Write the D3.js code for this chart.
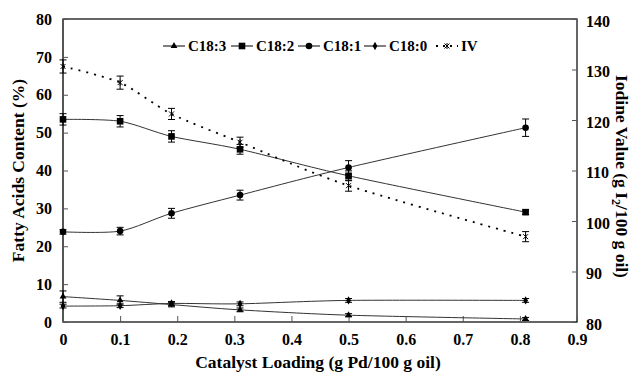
<!DOCTYPE html>
<html>
<head>
<meta charset="utf-8">
<script src="https://cdn.jsdelivr.net/npm/d3@7"></script>
<style>
  body { margin: 0; background: #fff; }
</style>
</head>
<body>
<div id="chart"></div>
<script>
// ---- data ----
const loading = [0, 0.1, 0.19, 0.31, 0.5, 0.81];

const c183 = [6.7, 5.7, 4.6, 3.2, 1.8, 0.8];
const c183Err = [1.5, 1.2, 0.6, 0.5, 0.4, 0.4];
const c182 = [53.5, 53.0, 49.0, 45.6, 38.6, 29.0];
const c182Err = [1.5, 1.5, 1.5, 1.3, 1.3, 0.6];
const c181 = [23.8, 24.0, 28.7, 33.5, 40.8, 51.3];
const c181Err = [0.6, 1.0, 1.3, 1.3, 1.8, 2.3];
const c180 = [4.2, 4.3, 4.9, 4.8, 5.7, 5.7];
const c180Err = [0.5, 0.5, 0.5, 0.5, 0.5, 0.5];
const iv = [130.6, 127.4, 121.2, 115.6, 107.0, 96.9];
const ivErr = [1.3, 1.3, 1.1, 1.0, 1.1, 1.0];

const xTicks = [0, 0.1, 0.2, 0.3, 0.4, 0.5, 0.6, 0.7, 0.8, 0.9];
const yLeftTicks = [0, 10, 20, 30, 40, 50, 60, 70, 80];
const yRightTicks = [80, 90, 100, 110, 120, 130, 140];

const FONT = 'Liberation Serif';

// ---- layout ----
const W = 635, H = 374;
const m = { left: 63, right: 58, top: 19, bottom: 52 };
const iw = W - m.left - m.right;
const ih = H - m.top - m.bottom;

const svg = d3.select('#chart').append('svg').attr('width', W).attr('height', H);
const g = svg.append('g').attr('transform', `translate(${m.left},${m.top})`);

const x = d3.scaleLinear().domain([0, 0.9]).range([0, iw]);
const yL = d3.scaleLinear().domain([0, 80]).range([ih, 0]);
const yR = d3.scaleLinear().domain([80, 140]).range([ih, 0]);

// frame
g.append('rect').attr('width', iw).attr('height', ih)
  .attr('fill', 'none').attr('stroke', '#000').attr('stroke-width', 1.2);
g.append('line').attr('x1', 0).attr('x2', 0).attr('y1', 0).attr('y2', ih)
  .attr('stroke', '#555').attr('stroke-width', 2);

// axes
const xAxis = g.append('g').attr('transform', `translate(0,${ih})`)
  .call(d3.axisBottom(x).tickValues(xTicks).tickFormat(d => d === 0 ? '0' : d3.format('.1f')(d))
    .tickSizeInner(-6).tickSizeOuter(0).tickPadding(12));
const yLeft = g.append('g')
  .call(d3.axisLeft(yL).tickValues(yLeftTicks).tickSizeInner(-5).tickSizeOuter(0).tickPadding(11));
const yRight = g.append('g').attr('transform', `translate(${iw},0)`)
  .call(d3.axisRight(yR).tickValues(yRightTicks).tickSizeInner(-5).tickSizeOuter(0).tickPadding(9));

[xAxis, yLeft, yRight].forEach(a => {
  a.select('.domain').remove();
  a.selectAll('line').attr('stroke', '#555');
  a.selectAll('text')
    .style('font-family', FONT).style('font-weight', 'bold')
    .style('font-size', '16px').attr('fill', '#000');
});
yRight.selectAll('text').attr('dy', '0.45em');

// axis titles
function title(sel) {
  return sel.style('font-family', FONT).style('font-weight', 'bold').style('font-size', '17.5px')
    .attr('text-anchor', 'middle').attr('fill', '#000');
}
title(svg.append('text').attr('x', m.left + iw / 2 - 2).attr('y', 368))
  .text('Catalyst Loading (g Pd/100 g oil)');
title(svg.append('text').attr('transform', `translate(24,${m.top + ih / 2}) rotate(-90)`))
  .text('Fatty Acids Content (%)');
const rt = title(svg.append('text').attr('transform', `translate(616,${m.top + ih / 2 + 6}) rotate(90)`));
rt.append('tspan').text('Iodine Value (g I');
rt.append('tspan').attr('dy', 4).style('font-size', '12px').text('2');
rt.append('tspan').attr('dy', -4).text('/100 g oil)');

// markers
function marker(sel, type, cx, cy) {
  if (type === 'tri') {
    sel.append('path').attr('d', d3.symbol(d3.symbolTriangle, 20)()).attr('transform', `translate(${cx},${cy})`).attr('fill', '#000');
  } else if (type === 'sq') {
    sel.append('rect').attr('x', cx - 3.3).attr('y', cy - 3.3).attr('width', 6.6).attr('height', 6.6).attr('fill', '#000');
  } else if (type === 'circ') {
    sel.append('circle').attr('cx', cx).attr('cy', cy).attr('r', 3.3).attr('fill', '#000');
  } else if (type === 'dia') {
    sel.append('path').attr('d', d3.symbol(d3.symbolDiamond, 20)()).attr('transform', `translate(${cx},${cy})`).attr('fill', '#000');
  } else if (type === 'star') {
    sel.append('path').attr('d', `M${cx - 2.5},${cy - 2.5}L${cx + 2.5},${cy + 2.5}M${cx - 2.5},${cy + 2.5}L${cx + 2.5},${cy - 2.5}M${cx},${cy - 3}L${cx},${cy + 3}`)
      .attr('stroke', '#000').attr('stroke-width', 1).attr('fill', 'none');
  }
}

const series = [
  { name: 'C18:3', vals: c183, err: c183Err, y: yL, mk: 'tri', dash: null },
  { name: 'C18:2', vals: c182, err: c182Err, y: yL, mk: 'sq', dash: null },
  { name: 'C18:1', vals: c181, err: c181Err, y: yL, mk: 'circ', dash: null },
  { name: 'C18:0', vals: c180, err: c180Err, y: yL, mk: 'dia', dash: null },
  { name: 'IV', vals: iv, err: ivErr, y: yR, mk: 'star', dash: '2,6' },
];

series.forEach(s => {
  const pts = loading.map((l, i) => [x(l), s.y(s.vals[i])]);
  g.append('path').datum(pts)
    .attr('d', d3.line().curve(d3.curveCardinal.tension(0.2)))
    .attr('fill', 'none').attr('stroke', s.dash ? '#000' : '#333')
    .attr('stroke-width', s.dash ? 1.8 : 1)
    .attr('stroke-dasharray', s.dash);
  loading.forEach((l, i) => {
    const cx = x(l);
    const y1 = s.y(s.vals[i] + s.err[i]), y2 = s.y(s.vals[i] - s.err[i]);
    g.append('path').attr('d', `M${cx},${y1}L${cx},${y2}M${cx - 3.5},${y1}L${cx + 3.5},${y1}M${cx - 3.5},${y2}L${cx + 3.5},${y2}`)
      .attr('stroke', '#000').attr('stroke-width', 1).attr('fill', 'none');
    marker(g, s.mk, cx, s.y(s.vals[i]));
  });
});

// legend
const legendX = [163, 231, 298, 364, 436];
const lg = svg.append('g');
series.forEach((s, i) => {
  const lx = legendX[i], ly = 46;
  lg.append('line').attr('x1', lx).attr('x2', lx + 22).attr('y1', ly).attr('y2', ly)
    .attr('stroke', '#000').attr('stroke-width', s.dash ? 1.8 : 1).attr('stroke-dasharray', s.dash ? '2,5' : null);
  marker(lg, s.mk, lx + 11, ly);
  lg.append('text').attr('x', lx + 25).attr('y', ly + 5)
    .style('font-family', FONT).style('font-weight', 'bold').style('font-size', '15px')
    .attr('fill', '#000').text(s.name);
});
</script>
</body>
</html>
